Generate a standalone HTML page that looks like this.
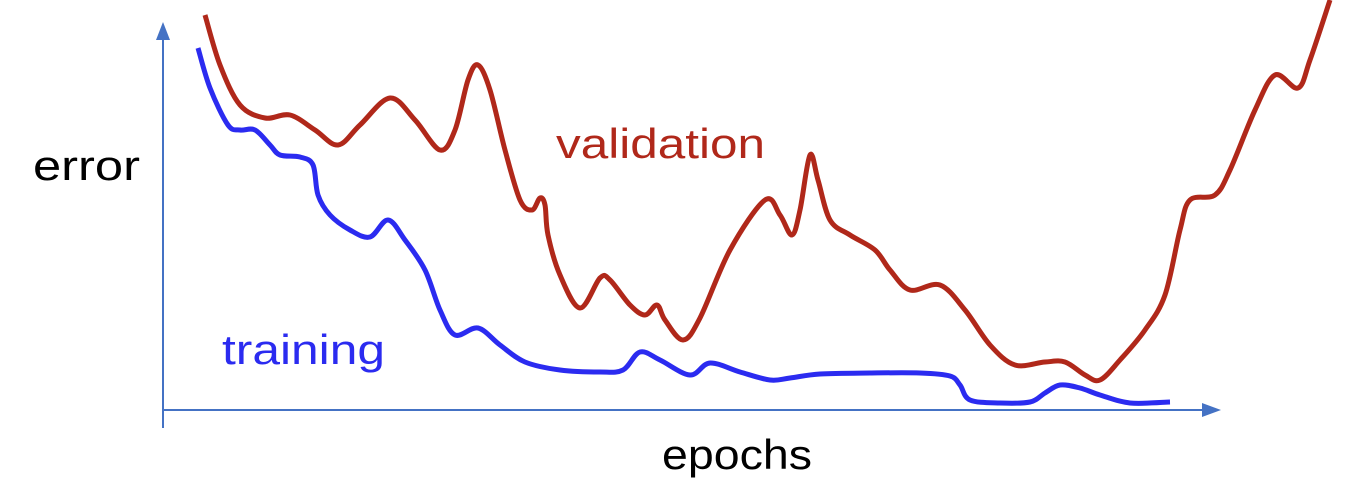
<!DOCTYPE html>
<html>
<head>
<meta charset="utf-8">
<style>
  html,body{margin:0;padding:0;background:#fff;}
  body{width:1348px;height:488px;overflow:hidden;font-family:"Liberation Sans",sans-serif;}
  svg{display:block;}
</style>
</head>
<body>
<svg id="chart" width="1348" height="488" viewBox="0 0 1348 488">
  <line x1="163" y1="428" x2="163" y2="30" stroke="#4472C4" stroke-width="2"/>
  <polygon points="156,40 163,22 170,40" fill="#4472C4"/>
  <line x1="163" y1="410" x2="1205" y2="410" stroke="#4472C4" stroke-width="2"/>
  <polygon points="1202,403 1221,410 1202,417" fill="#4472C4"/>
  <text x="33" y="180" font-size="42" fill="#000" textLength="107" lengthAdjust="spacingAndGlyphs">error</text>
  <text x="662" y="469" font-size="42" fill="#000" textLength="150" lengthAdjust="spacingAndGlyphs">epochs</text>
  <text x="556" y="158" font-size="42" fill="#B0281A" textLength="209" lengthAdjust="spacingAndGlyphs">validation</text>
  <text x="222" y="364" font-size="42" fill="#2B2BF0" textLength="163" lengthAdjust="spacingAndGlyphs">training</text>
  <g id="series"></g>
</svg>
<script>
const valEpochs = [42,57,77,102,127,152,175,197,227,252,277,292,305,315,327,342,357,369,377,382,385,397,417,437,447,467,482,494,502,520,537,567,602,617,629,637,647,655,667,687,712,727,747,777,802,827,852,882,902,922,937,957,982,1002,1017,1027,1052,1067,1092,1112,1135,1147,1167];
const valErrors = [395,345,305,292,295,280,265,285,312,290,260,280,330,345,320,260,210,200,212,205,175,135,102,132,130,105,95,105,90,70,92,160,210,195,175,200,255,230,190,175,160,140,120,125,100,65,45,48,48,35,30,50,80,115,180,210,215,240,300,335,322,350,410];
const trainEpochs = [35,47,65,77,92,107,117,137,150,155,167,187,207,225,242,262,277,292,315,337,362,397,437,460,477,497,527,547,577,607,627,657,707,757,787,797,807,837,867,882,897,917,937,967,1007];
const trainErrors = [362,322,285,280,280,265,255,253,245,215,195,180,173,190,170,140,100,75,82,65,48,40,38,40,58,50,35,47,38,30,32,36,37,37,34,25,10,7,8,17,25,22,15,7,8];

function xScale(e){ return 163 + e; }
function yScale(v){ return 410 - v; }

function smoothPath(xs, ys){
  const p = xs.map((x,i)=>[xScale(x), yScale(ys[i])]);
  let d = 'M' + p[0][0] + ',' + p[0][1];
  for(let i=0;i<p.length-1;i++){
    const p0 = p[i-1]||p[i], p1=p[i], p2=p[i+1], p3=p[i+2]||p2;
    const c1x = p1[0]+(p2[0]-p0[0])/6, c1y = p1[1]+(p2[1]-p0[1])/6;
    const c2x = p2[0]-(p3[0]-p1[0])/6, c2y = p2[1]-(p3[1]-p1[1])/6;
    d += ' C'+c1x+','+c1y+' '+c2x+','+c2y+' '+p2[0]+','+p2[1];
  }
  return d;
}
const g = document.getElementById('series');
const NS = 'http://www.w3.org/2000/svg';
const val = document.createElementNS(NS,'path');
val.setAttribute('d', smoothPath(valEpochs, valErrors));
val.setAttribute('fill','none');
val.setAttribute('stroke','#B0281A');
val.setAttribute('stroke-width','5');
val.setAttribute('stroke-linejoin','round');


g.appendChild(val);
const tr = document.createElementNS(NS,'path');
tr.setAttribute('d', smoothPath(trainEpochs, trainErrors));
tr.setAttribute('fill','none');
tr.setAttribute('stroke','#2B2BF0');
tr.setAttribute('stroke-width','5');
tr.setAttribute('stroke-linejoin','round');


g.appendChild(tr);
</script>
</body>
</html>
